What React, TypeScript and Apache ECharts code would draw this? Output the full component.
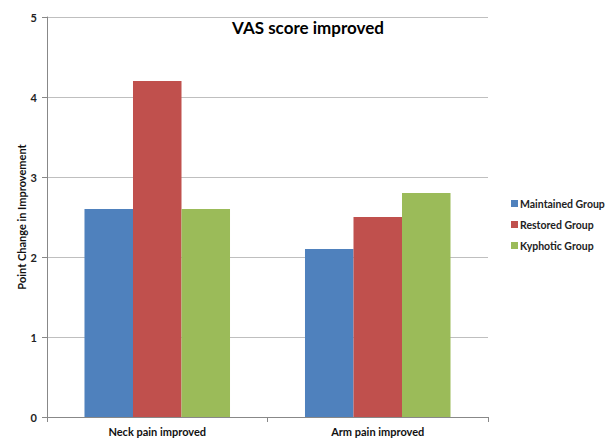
import React, { useEffect, useRef } from "react";
import * as echarts from "echarts";

const categories = ["Neck pain improved", "Arm pain improved"];
const maintained = [2.6, 2.1];
const restored = [4.2, 2.5];
const kyphotic = [2.6, 2.8];
const seriesNames = ["Maintained Group", "Restored Group", "Kyphotic Group"];
const colors = ["#4F81BD", "#C0504D", "#9BBB59"];

export default function App() {
  const ref = useRef<HTMLDivElement>(null);
  useEffect(() => {
    if (!ref.current) return;
    const chart = echarts.init(ref.current, null, { renderer: "svg" });
    const font = "Lato, 'Open Sans', sans-serif";
    const data = [maintained, restored, kyphotic];
    chart.setOption({
      animation: false,
      backgroundColor: "#ffffff",
      title: {
        text: "VAS score improved",
        left: 303,
        textAlign: "center",
        top: 14,
        textStyle: { fontFamily: font, fontWeight: "bold", fontSize: 17, color: "#000" },
      },
      legend: {
        orient: "vertical",
        left: 506,
        top: 193,
        itemWidth: 7,
        itemHeight: 7,
        itemGap: 10,
        icon: "rect",
        data: seriesNames,
        textStyle: { fontFamily: font, fontWeight: "bold", fontSize: 10.5, color: "#222", padding: [0, 0, 0, -3] },
      },
      grid: { left: 47, top: 17, right: 120, bottom: 23, containLabel: false },
      xAxis: {
        type: "category",
        data: categories,
        axisLine: { lineStyle: { color: "#888", width: 1 } },
        axisTick: { show: true, alignWithLabel: false, length: 5, lineStyle: { color: "#888" } },
        axisLabel: { fontFamily: font, fontWeight: "bold", fontSize: 11, color: "#111", margin: 9 },
      },
      yAxis: {
        type: "value",
        min: 0,
        max: 5,
        interval: 1,
        name: "Point Change in Improvement",
        nameLocation: "middle",
        nameGap: 20,
        nameMoveOverlap: false,
        nameRotate: 90,
        nameTextStyle: { fontFamily: font, fontWeight: "bold", fontSize: 11, color: "#111" },
        axisLine: { show: true, lineStyle: { color: "#888", width: 1 } },
        axisTick: { show: true, length: 5, lineStyle: { color: "#888" } },
        axisLabel: { fontFamily: font, fontWeight: "bold", fontSize: 11, color: "#222", margin: 10 },
        splitLine: { show: true, lineStyle: { color: "#bfbfbf", width: 1 } },
      },
      series: seriesNames.map((name, i) => ({
        name,
        type: "bar",
        data: data[i],
        itemStyle: { color: colors[i] },
        barGap: "0%",
        barCategoryGap: "34%",
      })),
    });
    return () => chart.dispose();
  }, []);
  return <div ref={ref} style={{ width: 608, height: 440, position: "absolute", left: 0, top: 0 }} />;
}
